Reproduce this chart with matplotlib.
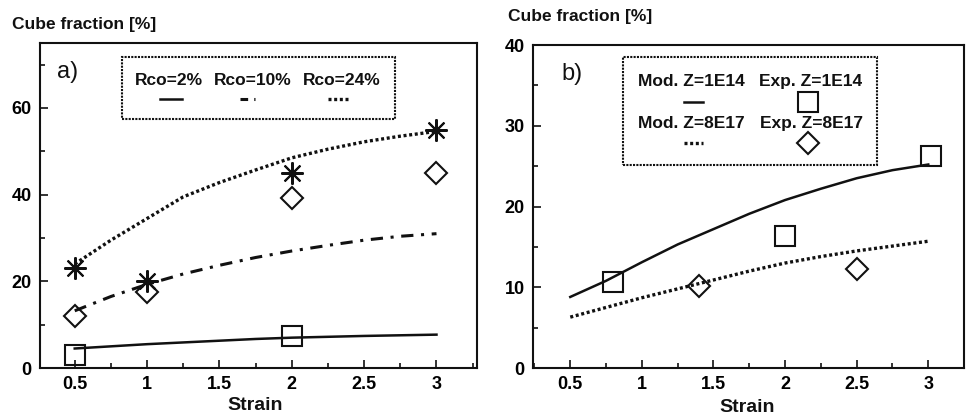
import matplotlib
matplotlib.use("Agg")
import matplotlib.pyplot as plt
from matplotlib.patches import Rectangle
from matplotlib.ticker import MultipleLocator

plt.rcParams['font.family'] = ['Liberation Sans', 'DejaVu Sans']

# ---- panel a) data
strain_a = [0.5, 0.75, 1.0, 1.25, 1.5, 1.75, 2.0, 2.25, 2.5, 2.75, 3.0]
rco2_model = [4.5, 5.0, 5.5, 5.9, 6.3, 6.7, 7.0, 7.2, 7.4, 7.55, 7.7]
rco10_model = [13.2, 16.5, 19.3, 21.7, 23.7, 25.5, 27.0, 28.3, 29.5, 30.4, 31.0]
rco24_model = [24.0, 29.5, 34.5, 39.5, 42.8, 45.7, 48.5, 50.5, 52.2, 53.5, 54.6]

star_x = [0.5, 1.0, 2.0, 3.0]
star_y = [23.0, 20.0, 45.0, 55.0]
diam_a_x = [0.5, 1.0, 2.0, 3.0]
diam_a_y = [12.0, 17.5, 39.3, 45.0]
sq_a_x = [0.5, 2.0]
sq_a_y = [3.0, 7.5]

# ---- panel b) data
strain_b = [0.5, 0.75, 1.0, 1.25, 1.5, 1.75, 2.0, 2.25, 2.5, 2.75, 3.0]
z1e14_model = [8.8, 10.8, 13.1, 15.3, 17.2, 19.1, 20.8, 22.2, 23.5, 24.5, 25.2]
z8e17_model = [6.3, 7.5, 8.7, 9.8, 10.9, 12.0, 13.0, 13.8, 14.5, 15.1, 15.7]

sq_b_x = [0.8, 2.0, 3.02]
sq_b_y = [10.6, 16.3, 26.2]
diam_b_x = [1.4, 2.5]
diam_b_y = [10.1, 12.3]

ink = '#111111'
dotted = (0, (0.9, 0.8))
dashdot = (0, (4, 2.5, 1, 2.5))

fig = plt.figure(figsize=(9.66, 4.19), dpi=100)
ax1 = fig.add_axes([0.0414, 0.1217, 0.4524, 0.7757])
ax2 = fig.add_axes([0.5518, 0.1217, 0.4462, 0.7709])

for ax in (ax1, ax2):
    for s in ax.spines.values():
        s.set_linewidth(1.5)
        s.set_color(ink)
    ax.tick_params(which='both', direction='in', top=False, right=False,
                   color=ink, labelsize=13, width=1.2)
    ax.tick_params(which='major', length=6, pad=6)
    ax.tick_params(which='minor', length=3.5)
    ax.xaxis.set_minor_locator(MultipleLocator(0.25))
    ax.set_xticks([0.5, 1, 1.5, 2, 2.5, 3])
    ax.set_xticklabels(['0.5', '1', '1.5', '2', '2.5', '3'], fontweight='bold')

# ---------------- panel a
ax1.plot(strain_a, rco2_model, color=ink, lw=1.8, linestyle='solid')
ax1.plot(strain_a, rco10_model, color=ink, lw=2.2, linestyle=dashdot)
ax1.plot(strain_a, rco24_model, color=ink, lw=2.4, linestyle=dotted)
ax1.plot(star_x, star_y, linestyle='none', marker=(8, 2, 0), ms=16, mec=ink, mew=1.5)
ax1.plot(diam_a_x, diam_a_y, linestyle='none', marker='D', ms=11, mfc='none', mec=ink, mew=1.5)
ax1.plot(sq_a_x, sq_a_y, linestyle='none', marker='s', ms=15, mfc='none', mec=ink, mew=1.5)
ax1.set_xlim(0.26, 3.28)
ax1.set_ylim(0, 75)
ax1.yaxis.set_minor_locator(MultipleLocator(10))
ax1.set_yticks([0, 20, 40, 60])
ax1.set_yticklabels(['0', '20', '40', '60'], fontweight='bold')

ax1.add_patch(Rectangle((0.187, 0.766), 0.625, 0.191, transform=ax1.transAxes,
                        fill=False, lw=1.5, ls=(0, (1, 0.6)), ec=ink))
for cx, txt in [(0.295, 'Rco=2%'), (0.487, 'Rco=10%'), (0.691, 'Rco=24%')]:
    ax1.text(cx, 0.886, txt, transform=ax1.transAxes, ha='center', va='center',
             fontsize=12.5, fontweight='bold', color=ink)
ax1.plot([0.275, 0.325], [0.829, 0.829], transform=ax1.transAxes, color=ink, lw=1.8)
ax1.plot([0.458, 0.492], [0.829, 0.829], transform=ax1.transAxes, color=ink, lw=2.2,
         ls=(0, (2.5, 2, 1, 2)))
ax1.plot([0.659, 0.705], [0.829, 0.829], transform=ax1.transAxes, color=ink, lw=2.4, ls=dotted)
ax1.text(0.038, 0.911, 'a)', transform=ax1.transAxes, ha='left', va='center',
         fontsize=17, color=ink)

# ---------------- panel b
ax2.plot(strain_b, z1e14_model, color=ink, lw=1.8, linestyle='solid')
ax2.plot(strain_b, z8e17_model, color=ink, lw=2.4, linestyle=dotted)
ax2.plot(sq_b_x, sq_b_y, linestyle='none', marker='s', ms=15, mfc='none', mec=ink, mew=1.5)
ax2.plot(diam_b_x, diam_b_y, linestyle='none', marker='D', ms=11, mfc='none', mec=ink, mew=1.5)
ax2.set_xlim(0.24, 3.25)
ax2.set_ylim(0, 40)
ax2.yaxis.set_minor_locator(MultipleLocator(5))
ax2.set_yticks([0, 10, 20, 30, 40])
ax2.set_yticklabels(['0', '10', '20', '30', '40'], fontweight='bold')

ax2.add_patch(Rectangle((0.208, 0.628), 0.591, 0.335, transform=ax2.transAxes,
                        fill=False, lw=1.5, ls=(0, (1, 0.6)), ec=ink))
rows = [(0.886, 'Mod. Z=1E14', 'Exp. Z=1E14'), (0.758, 'Mod. Z=8E17', 'Exp. Z=8E17')]
for cy, t1, t2 in rows:
    ax2.text(0.367, cy, t1, transform=ax2.transAxes, ha='center', va='center',
             fontsize=12.5, fontweight='bold', color=ink)
    ax2.text(0.645, cy, t2, transform=ax2.transAxes, ha='center', va='center',
             fontsize=12.5, fontweight='bold', color=ink)
ax2.plot([0.35, 0.395], [0.824, 0.824], transform=ax2.transAxes, color=ink, lw=1.8)
ax2.plot([0.35, 0.395], [0.696, 0.696], transform=ax2.transAxes, color=ink, lw=2.4, ls=dotted)
ax2.plot([0.637], [0.824], transform=ax2.transAxes, marker='s', ms=15, mfc='none', mec=ink, mew=1.5)
ax2.plot([0.637], [0.696], transform=ax2.transAxes, marker='D', ms=11, mfc='none', mec=ink, mew=1.5)
ax2.text(0.066, 0.911, 'b)', transform=ax2.transAxes, ha='left', va='center',
         fontsize=17, color=ink)

# axis titles
fig.text(12 / 966, 1 - 25 / 419, 'Cube fraction [%]', ha='left', va='center',
         fontsize=12.5, fontweight='bold', color=ink)
fig.text(508 / 966, 1 - 16 / 419, 'Cube fraction [%]', ha='left', va='center',
         fontsize=12.5, fontweight='bold', color=ink)
fig.text(255 / 966, 1 - 405 / 419, 'Strain', ha='center', va='center',
         fontsize=14, fontweight='bold', color=ink)
fig.text(747 / 966, 1 - 407 / 419, 'Strain', ha='center', va='center',
         fontsize=14, fontweight='bold', color=ink)

fig.savefig('out.png', dpi=100)
